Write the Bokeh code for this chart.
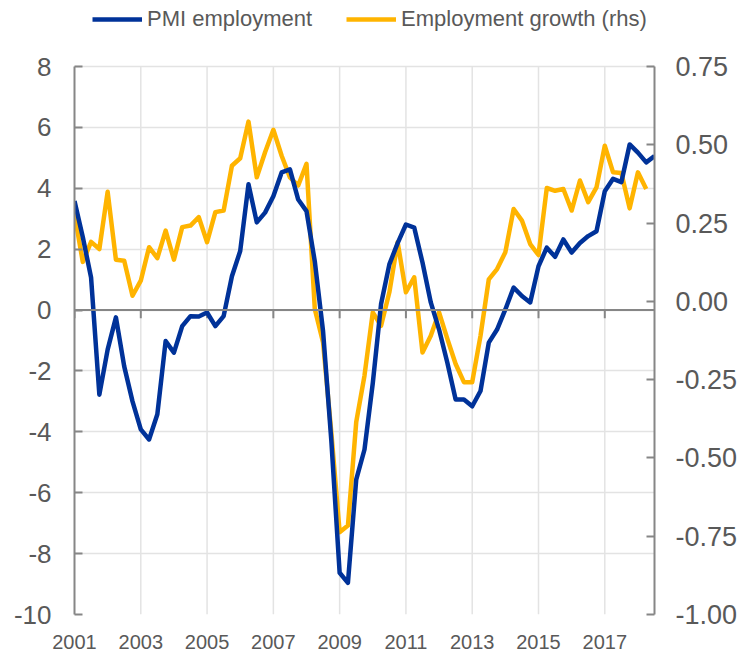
from bokeh.plotting import figure
from bokeh.models import (Range1d, LinearAxis, FixedTicker, Span, Legend, LegendItem,
                          NumeralTickFormatter, ColumnDataSource)
from bokeh.embed import file_html
from bokeh.resources import INLINE

# ---- data (quarterly, starting 2001Q1) ----
start_year = 2001
pmi_employment = [3.58, 2.4, 1.07, -2.78, -1.3, -0.24, -1.85, -3.0, -3.92, -4.25,
                  -3.42, -1.02, -1.4, -0.53, -0.2, -0.21, -0.08, -0.53, -0.2, 1.11,
                  1.94, 4.13, 2.88, 3.2, 3.74, 4.52, 4.62, 3.63, 3.25, 1.6,
                  -0.7, -4.3, -8.63, -8.96, -5.57, -4.58, -2.4, 0.2, 1.5, 2.2,
                  2.81, 2.71, 1.56, 0.25, -0.64, -1.73, -2.94, -2.94, -3.16, -2.66,
                  -1.07, -0.64, 0.02, 0.74, 0.46, 0.25, 1.44, 2.05, 1.75, 2.32,
                  1.89, 2.2, 2.43, 2.59, 3.9, 4.31, 4.2, 5.44, 5.17, 4.85, 5.06]
employment_growth = [0.279, 0.126, 0.19, 0.167, 0.35, 0.133, 0.13, 0.018, 0.066, 0.173,
                     0.138, 0.226, 0.133, 0.237, 0.242, 0.269, 0.189, 0.285, 0.29, 0.433,
                     0.457, 0.574, 0.396, 0.476, 0.548, 0.465, 0.396, 0.37, 0.439, -0.024,
                     -0.131, -0.42, -0.737, -0.716, -0.386, -0.237, -0.035, -0.078, 0.029, 0.189,
                     0.029, 0.077, -0.163, -0.11, -0.035, -0.12, -0.2, -0.258, -0.258, -0.11,
                     0.07, 0.103, 0.157, 0.295, 0.258, 0.183, 0.148, 0.362, 0.353, 0.359,
                     0.29, 0.386, 0.317, 0.364, 0.497, 0.412, 0.41, 0.297, 0.412, 0.359]
series_names = ["PMI employment", "Employment growth (rhs)"]
x_tick_years = [2001, 2003, 2005, 2007, 2009, 2011, 2013, 2015, 2017]
left_ticks = [-10, -8, -6, -4, -2, 0, 2, 4, 6, 8]
right_ticks = [-1.0, -0.75, -0.5, -0.25, 0.0, 0.25, 0.5, 0.75]

x_pmi = [start_year + i / 4 for i in range(len(pmi_employment))]
x_emp = [start_year + i / 4 for i in range(len(employment_growth))]

BLUE = "#003299"
YELLOW = "#FFB400"
TEXT = "#595959"
AXIS = "#868686"
GRID = "#e3e3e3"
FONT = "Liberation Sans"
LW = 4.5

# layout: chart area 548px tall, plus a 64px strip on top for the legend
AREA_H = 548
LEGEND_H = 64
l_lo, l_hi = left_ticks[0], left_ticks[-1]
r_lo, r_hi = right_ticks[0], right_ticks[-1]
l_top = l_hi + (l_hi - l_lo) * LEGEND_H / AREA_H
r_top = r_hi + (r_hi - r_lo) * LEGEND_H / AREA_H

p = figure(width=740, height=2 + AREA_H + LEGEND_H + 39, output_backend="svg",
           toolbar_location=None,
           x_range=Range1d(2001, 2018.5), y_range=Range1d(l_lo, l_top),
           min_border_left=74, min_border_right=82, min_border_top=2, min_border_bottom=39)
p.outline_line_color = None
p.background_fill_color = "white"
p.border_fill_color = "white"

p.extra_y_ranges = {"rhs": Range1d(r_lo, r_top)}

# left axis
ya = p.yaxis[0]
ya.ticker = FixedTicker(ticks=left_ticks)
ya.bounds = (l_lo, l_hi)
ya.formatter = NumeralTickFormatter(format="0")
ya.axis_line_color = AXIS
ya.axis_line_width = 2
ya.major_tick_line_color = AXIS
ya.major_tick_line_width = 2
ya.major_tick_in = 8
ya.major_tick_out = 0
ya.minor_tick_line_color = None
ya.major_label_text_font = FONT
ya.major_label_text_font_size = "26px"
ya.major_label_text_color = TEXT
ya.major_label_standoff = 23

# right axis
ra = LinearAxis(y_range_name="rhs", ticker=FixedTicker(ticks=right_ticks),
                formatter=NumeralTickFormatter(format="0.00"), bounds=(r_lo, r_hi))
ra.axis_line_color = AXIS
ra.axis_line_width = 2
ra.major_tick_line_color = AXIS
ra.major_tick_line_width = 2
ra.major_tick_in = 8
ra.major_tick_out = 0
ra.minor_tick_line_color = None
ra.major_label_text_font = FONT
ra.major_label_text_font_size = "27px"
ra.major_label_text_color = TEXT
ra.major_label_standoff = 21
p.add_layout(ra, "right")

# x axis: labels only
xa = p.xaxis[0]
xa.ticker = FixedTicker(ticks=x_tick_years)
xa.axis_line_color = None
xa.major_tick_line_color = None
xa.minor_tick_line_color = None
xa.major_label_text_font = FONT
xa.major_label_text_font_size = "20px"
xa.major_label_text_color = TEXT
xa.major_label_standoff = 14

# grids: horizontal from the axis, vertical limited to the chart area
p.xgrid[0].grid_line_color = None
p.ygrid[0].ticker = FixedTicker(ticks=left_ticks)
p.ygrid[0].grid_line_color = GRID
p.ygrid[0].grid_line_width = 1.5
vgrid_src = ColumnDataSource(dict(x=x_tick_years[1:], y0=[l_lo] * (len(x_tick_years) - 1),
                                  y1=[l_hi] * (len(x_tick_years) - 1)))
p.segment(x0="x", x1="x", y0="y0", y1="y1", source=vgrid_src, line_color=GRID, line_width=1.5)

# zero line with downward ticks
p.add_layout(Span(location=0, dimension="width", line_color=AXIS, line_width=2))
tick_src = ColumnDataSource(dict(x=x_tick_years, y0=[0] * len(x_tick_years),
                                 y1=[-0.27] * len(x_tick_years)))
p.segment(x0="x", x1="x", y0="y0", y1="y1", source=tick_src, line_color=AXIS, line_width=2)

r_emp = p.line(x_emp, employment_growth, y_range_name="rhs", line_color=YELLOW,
               line_width=LW, line_join="round")
r_pmi = p.line(x_pmi, pmi_employment, line_color=BLUE, line_width=LW, line_join="round")

legend = Legend(items=[LegendItem(label=series_names[0], renderers=[r_pmi]),
                       LegendItem(label=series_names[1], renderers=[r_emp])],
                orientation="horizontal", location=(18, 582))
legend.label_text_font = FONT
legend.label_text_font_size = "22px"
legend.label_text_color = TEXT
legend.glyph_width = 50
legend.label_standoff = 5
legend.spacing = 34
legend.padding = 2
legend.margin = 0
legend.border_line_color = None
legend.background_fill_alpha = 0
p.add_layout(legend)

open("out.html", "w").write(file_html(p, INLINE))
